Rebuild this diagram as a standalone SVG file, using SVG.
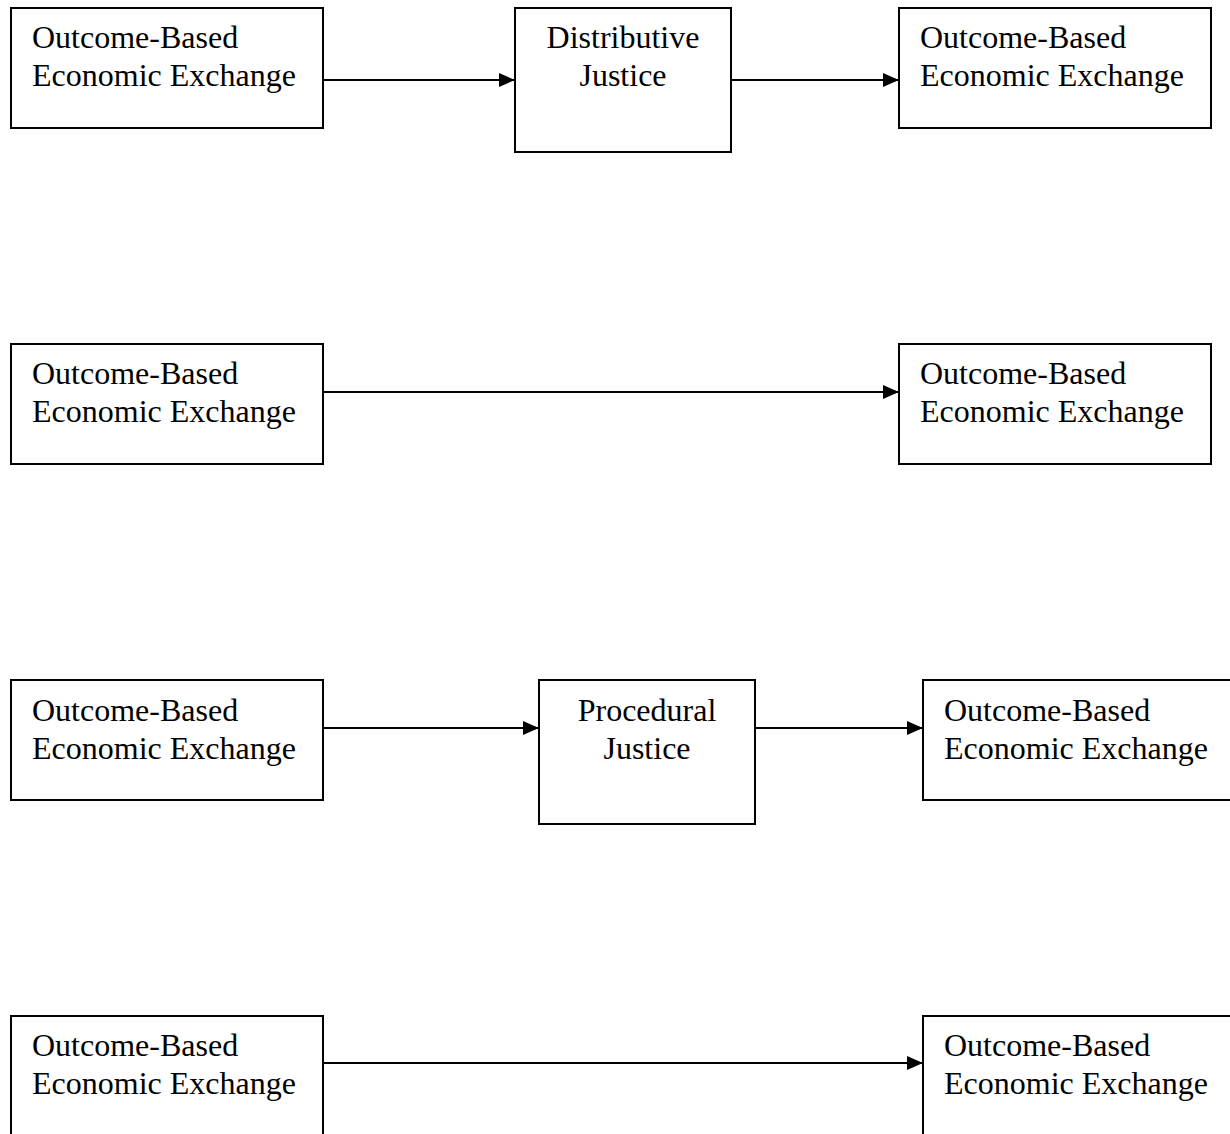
<svg xmlns="http://www.w3.org/2000/svg" width="1230" height="1134" viewBox="0 0 1230 1134">
<style>
.box{fill:#fff;stroke:#000;stroke-width:2}
.t{font-family:"Liberation Serif","Times New Roman",serif;font-size:32px;fill:#000}
.c{text-anchor:middle}
.edge{stroke:#000;stroke-width:2;fill:none}
</style>
<defs>
<marker id="ah" markerUnits="userSpaceOnUse" markerWidth="16" markerHeight="16" viewBox="0 0 16 16" refX="16" refY="8" orient="auto">
<path d="M0,1 L16,8 L0,15 Z" fill="#000"/>
</marker>
</defs>
<rect width="1230" height="1134" fill="#fff"/>
<g id="connectors">
<line class="edge" x1="323" y1="80" x2="515" y2="80" marker-end="url(#ah)"/>
<line class="edge" x1="731" y1="80" x2="899" y2="80" marker-end="url(#ah)"/>
<line class="edge" x1="323" y1="392" x2="899" y2="392" marker-end="url(#ah)"/>
<line class="edge" x1="323" y1="728" x2="539" y2="728" marker-end="url(#ah)"/>
<line class="edge" x1="755" y1="728" x2="923" y2="728" marker-end="url(#ah)"/>
<line class="edge" x1="323" y1="1063" x2="923" y2="1063" marker-end="url(#ah)"/>
</g>
<g id="r1a"><rect class="box" x="11" y="8" width="312" height="120"/><text class="t" x="32" y="48">Outcome-Based</text><text class="t" x="32" y="86">Economic Exchange</text></g>
<g id="r1b"><rect class="box" x="515" y="8" width="216" height="144"/><text class="t c" x="623" y="48">Distributive</text><text class="t c" x="623" y="86">Justice</text></g>
<g id="r1c"><rect class="box" x="899" y="8" width="312" height="120"/><text class="t" x="920" y="48">Outcome-Based</text><text class="t" x="920" y="86">Economic Exchange</text></g>
<g id="r2a"><rect class="box" x="11" y="344" width="312" height="120"/><text class="t" x="32" y="384">Outcome-Based</text><text class="t" x="32" y="422">Economic Exchange</text></g>
<g id="r2c"><rect class="box" x="899" y="344" width="312" height="120"/><text class="t" x="920" y="384">Outcome-Based</text><text class="t" x="920" y="422">Economic Exchange</text></g>
<g id="r3a"><rect class="box" x="11" y="680" width="312" height="120"/><text class="t" x="32" y="721">Outcome-Based</text><text class="t" x="32" y="759">Economic Exchange</text></g>
<g id="r3b"><rect class="box" x="539" y="680" width="216" height="144"/><text class="t c" x="647" y="721">Procedural</text><text class="t c" x="647" y="759">Justice</text></g>
<g id="r3c"><rect class="box" x="923" y="680" width="312" height="120"/><text class="t" x="944" y="721">Outcome-Based</text><text class="t" x="944" y="759">Economic Exchange</text></g>
<g id="r4a"><rect class="box" x="11" y="1016" width="312" height="120"/><text class="t" x="32" y="1056">Outcome-Based</text><text class="t" x="32" y="1094">Economic Exchange</text></g>
<g id="r4c"><rect class="box" x="923" y="1016" width="312" height="120"/><text class="t" x="944" y="1056">Outcome-Based</text><text class="t" x="944" y="1094">Economic Exchange</text></g>
</svg>
